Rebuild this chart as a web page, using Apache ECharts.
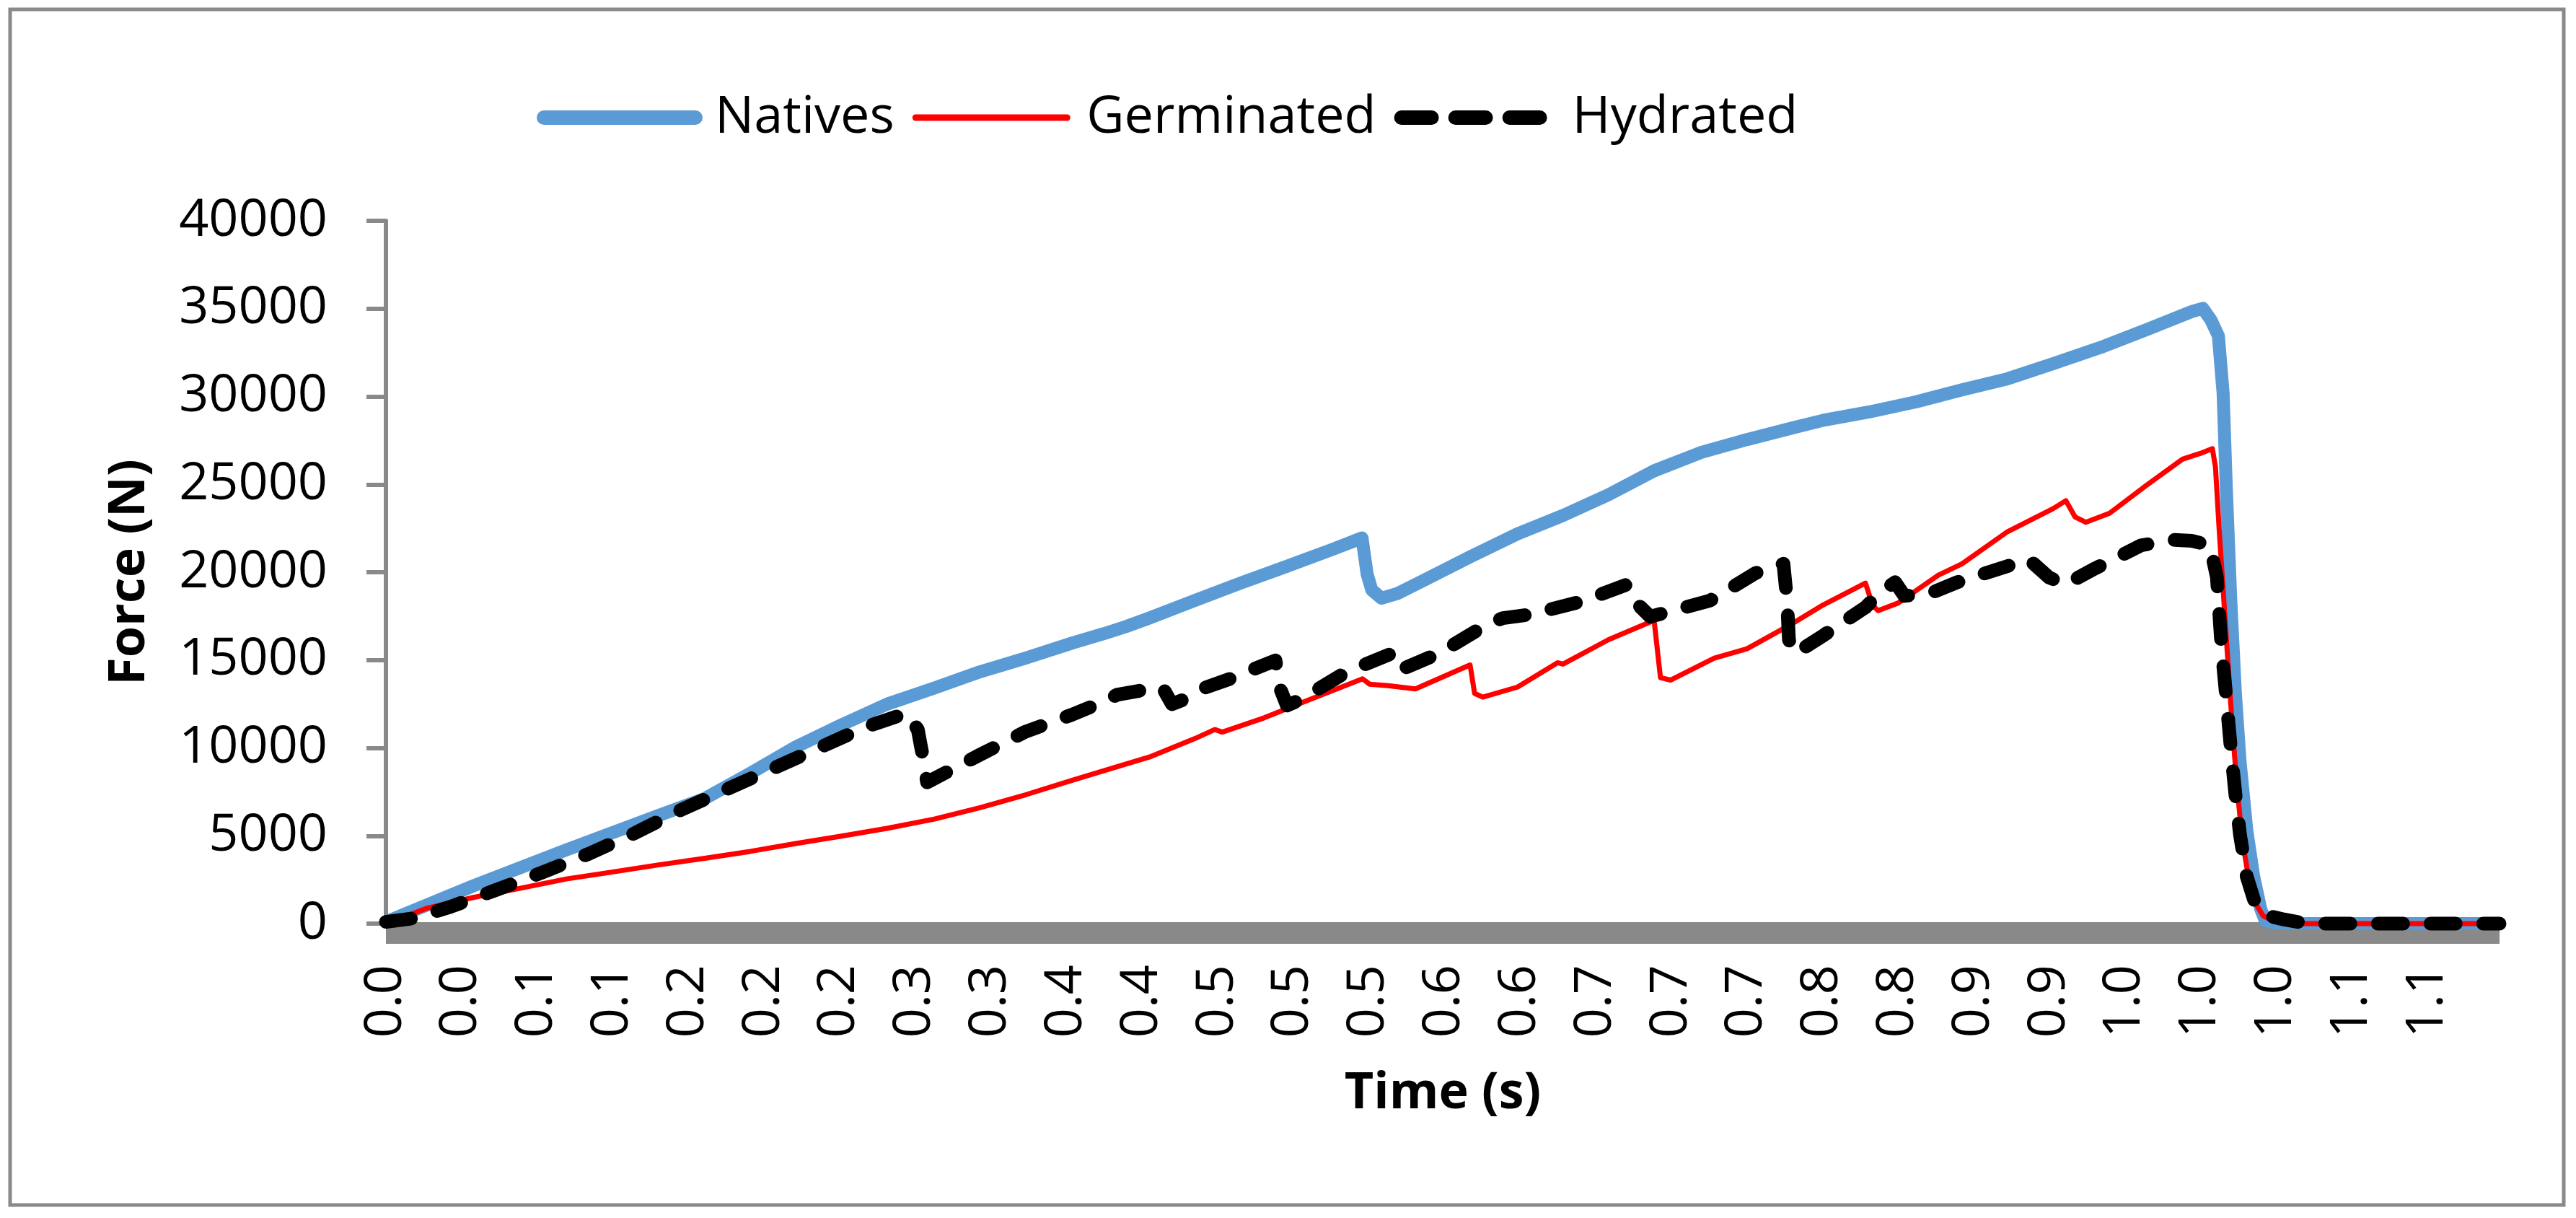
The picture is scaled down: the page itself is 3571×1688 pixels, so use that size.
<!DOCTYPE html>
<html>
<head>
<meta charset="utf-8">
<script src="https://cdn.jsdelivr.net/npm/echarts@6/dist/echarts.min.js"></script>
<style>
html,body{margin:0;padding:0;background:#ffffff;}
#chart{width:3571px;height:1688px;}
</style>
</head>
<body>
<div id="chart"></div>
<script>
// ---------- DATA ----------
const seriesNames = ['Natives', 'Germinated', 'Hydrated'];

// Natives: time (s) and force (N)
const natT = [0, 0.048, 0.099, 0.149, 0.175, 0.200, 0.225, 0.250, 0.275, 0.301, 0.326, 0.351, 0.377, 0.394, 0.406, 0.419, 0.444, 0.469, 0.494, 0.520, 0.5357, 0.5385, 0.541, 0.5463, 0.555, 0.570, 0.595, 0.621, 0.646, 0.671, 0.696, 0.722, 0.747, 0.772, 0.789, 0.814, 0.840, 0.865, 0.890, 0.915, 0.941, 0.966, 0.991, 0.9971, 1.0016, 1.0057, 1.0083, 1.0100, 1.0125, 1.0150, 1.0176, 1.0213, 1.0251, 1.0289, 1.0314, 1.036, 1.045, 1.16];
const natF = [100, 2150, 4190, 6130, 7120, 8560, 10060, 11310, 12490, 13410, 14330, 15110, 15980, 16500, 16900, 17390, 18390, 19380, 20320, 21320, 21950, 19900, 19000, 18520, 18780, 19560, 20870, 22180, 23230, 24410, 25770, 26820, 27550, 28210, 28650, 29120, 29700, 30380, 31010, 31870, 32790, 33790, 34830, 35020, 34360, 33450, 30170, 24930, 18390, 13150, 9220, 5290, 2670, 840, 180, 50, 0, 0];

// Germinated
const gerT = [0, 0.023, 0.048, 0.074, 0.099, 0.124, 0.149, 0.175, 0.200, 0.225, 0.250, 0.275, 0.301, 0.326, 0.351, 0.377, 0.394, 0.419, 0.444, 0.455, 0.459, 0.482, 0.507, 0.536, 0.540, 0.550, 0.565, 0.595, 0.5975, 0.602, 0.621, 0.643, 0.646, 0.671, 0.696, 0.6995, 0.705, 0.729, 0.747, 0.772, 0.789, 0.812, 0.816, 0.819, 0.830, 0.852, 0.865, 0.890, 0.915, 0.922, 0.927, 0.933, 0.946, 0.966, 0.986, 0.996, 1.0024, 1.0041, 1.0062, 1.0087, 1.0112, 1.0138, 1.0163, 1.0188, 1.0226, 1.0264, 1.0302, 1.037, 1.045, 1.16];
const gerF = [0, 890, 1490, 2020, 2540, 2930, 3330, 3720, 4110, 4560, 4980, 5420, 5950, 6600, 7330, 8170, 8700, 9480, 10530, 11050, 10900, 11710, 12750, 13930, 13620, 13540, 13360, 14720, 13100, 12890, 13460, 14850, 14770, 16160, 17260, 14000, 13860, 15110, 15640, 17080, 18150, 19380, 18100, 17810, 18250, 19830, 20480, 22310, 23620, 24070, 23150, 22840, 23360, 24930, 26430, 26770, 27030, 25980, 22310, 18390, 14460, 10530, 7390, 4770, 2410, 1100, 450, 100, 0, 0];

// Hydrated
const hydT = [0, 0.0157, 0.0358, 0.0611, 0.0863, 0.1115, 0.1368, 0.162, 0.1872, 0.2125, 0.2377, 0.2629, 0.2856, 0.2919, 0.2945, 0.297, 0.326, 0.351, 0.3765, 0.3936, 0.4012, 0.4176, 0.4264, 0.4314, 0.4378, 0.4491, 0.4668, 0.4769, 0.4882, 0.4907, 0.4945, 0.5021, 0.5273, 0.5551, 0.5601, 0.5778, 0.603, 0.6131, 0.6283, 0.656, 0.6812, 0.6875, 0.6939, 0.7266, 0.7519, 0.767, 0.769, 0.770, 0.7733, 0.7892, 0.7968, 0.8119, 0.8207, 0.8283, 0.8334, 0.8472, 0.8624, 0.8901, 0.9015, 0.9128, 0.9217, 0.9381, 0.9633, 0.981, 0.991, 1.0011, 1.0049, 1.0074, 1.0100, 1.0125, 1.0150, 1.0176, 1.0213, 1.0264, 1.0327, 1.0415, 1.0516, 1.06, 1.16];
const hydF = [100, 310, 970, 1940, 2930, 3980, 5160, 6470, 7650, 8830, 10000, 11180, 11970, 11050, 9610, 8040, 9610, 10920, 11890, 12620, 13020, 13330, 13410, 12490, 12750, 13410, 14060, 14510, 14980, 13410, 12410, 12750, 14330, 15500, 14590, 15370, 16950, 17390, 17600, 18330, 19300, 18120, 17470, 18380, 19960, 20480, 18380, 16150, 15370, 16420, 16950, 17990, 18910, 19430, 18650, 18780, 19430, 20350, 20740, 19700, 19300, 20220, 21530, 21840, 21790, 21530, 19700, 15770, 12890, 10000, 7390, 5030, 2670, 970, 450, 240, 50, 0, 0];

// Axes
const yMin = 0, yMax = 40000, yStep = 5000;
const xMin = 0, xMax = 1.16, xLabelStep = 0.0415; // label spacing of the time axis
const xTitle = 'Time (s)';
const yTitle = 'Force (N)';

// ---------- CHART ----------
const FONT = "'Open Sans', 'Liberation Sans', sans-serif";
const pairs = (t, f) => t.map((v, i) => [v, f[i]]);

const chart = echarts.init(document.getElementById('chart'), null, {renderer: 'canvas'});

chart.setOption({
  animation: false,
  backgroundColor: '#ffffff',
  graphic: [{
    type: 'rect',
    shape: {x: 14, y: 13, width: 3540, height: 1657},
    style: {fill: 'none', stroke: '#898989', lineWidth: 5},
    silent: true, z: -10
  }],
  legend: {
    left: 744, top: 127, padding: 0,
    itemGap: 25, itemWidth: 210, itemHeight: 80,
    textStyle: {fontFamily: FONT, fontSize: 72, color: '#000', padding: [0, 0, 0, 22]},
    data: [
      {name: seriesNames[0], itemStyle: {opacity: 0}, lineStyle: {width: 20, cap: 'round'}},
      {name: seriesNames[1], itemStyle: {opacity: 0}, lineStyle: {width: 9}},
      {name: seriesNames[2], itemStyle: {opacity: 0}, lineStyle: {width: 20, type: [42, 33], cap: 'round'}}
    ]
  },
  grid: {left: 535, right: 106, top: 306, bottom: 408, containLabel: false},
  xAxis: {
    type: 'value', min: xMin, max: xMax, interval: xLabelStep, offset: 13,
    name: xTitle, nameLocation: 'middle', nameGap: 188,
    nameTextStyle: {fontFamily: FONT, fontSize: 70, fontWeight: 'bold', color: '#000'},
    axisLine: {show: true, onZero: false, lineStyle: {color: '#898989', width: 30, cap: 'butt'}},
    axisTick: {show: false},
    splitLine: {show: false},
    axisLabel: {
      rotate: 90, margin: 44, fontFamily: FONT, fontSize: 72, color: '#000',
      showMaxLabel: false, showMinLabel: true,
      formatter: v => v.toFixed(1)
    }
  },
  yAxis: {
    type: 'value', min: yMin, max: yMax, interval: yStep,
    name: yTitle, nameLocation: 'middle', nameGap: 320,
    nameTextStyle: {fontFamily: FONT, fontSize: 70, fontWeight: 'bold', color: '#000'},
    axisLine: {show: true, lineStyle: {color: '#898989', width: 6}},
    axisTick: {show: true, inside: false, length: 27, lineStyle: {color: '#898989', width: 6}},
    splitLine: {show: false},
    axisLabel: {margin: 81, fontFamily: FONT, fontSize: 72, color: '#000', formatter: v => String(v)}
  },
  series: [
    {
      name: seriesNames[0], type: 'line', data: pairs(natT, natF),
      symbol: 'none', showSymbol: false, clip: false, z: 2,
      lineStyle: {color: '#5B9BD5', width: 18, cap: 'round', join: 'round'},
      itemStyle: {color: '#5B9BD5'}
    },
    {
      name: seriesNames[1], type: 'line', data: pairs(gerT, gerF),
      symbol: 'none', showSymbol: false, clip: false, z: 3,
      lineStyle: {color: '#FF0000', width: 7, cap: 'round', join: 'round'},
      itemStyle: {color: '#FF0000'}
    },
    {
      name: seriesNames[2], type: 'line', data: pairs(hydT, hydF),
      symbol: 'none', showSymbol: false, clip: false, z: 4,
      lineStyle: {color: '#000000', width: 19, type: [35, 38], cap: 'round', join: 'round'},
      itemStyle: {color: '#000000'}
    }
  ]
});
</script>
</body>
</html>
